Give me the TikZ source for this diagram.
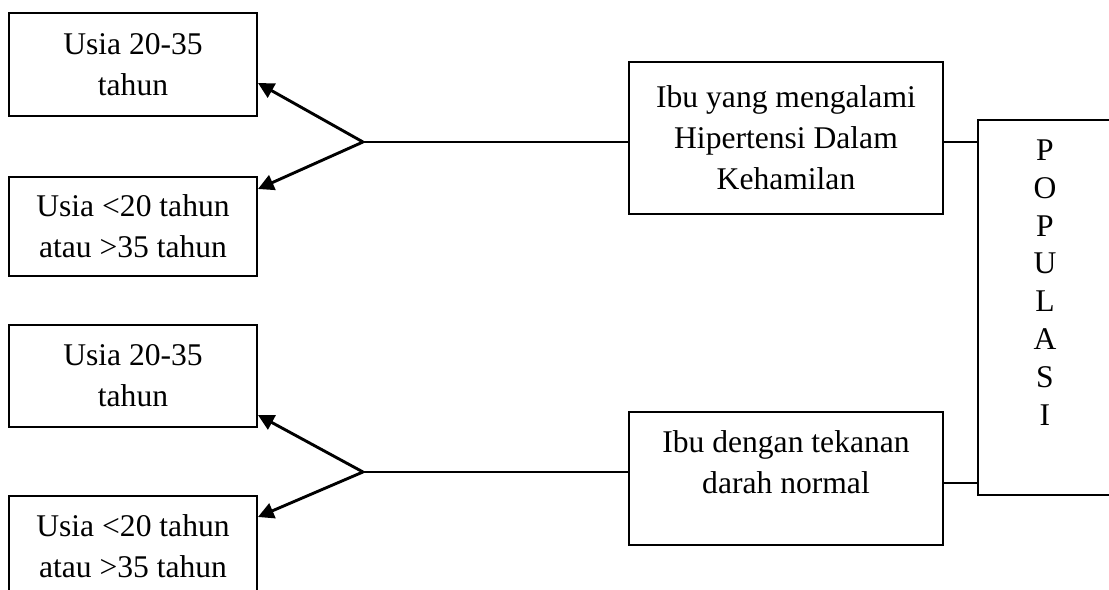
\documentclass[tikz,border=0pt]{standalone}
\usepackage{fontspec}
\setmainfont{Liberation Serif}
\usetikzlibrary{arrows.meta,calc,positioning}
\newcommand{\px}{0.01335cm}
\tikzset{
  every node/.style={font=\fontsize{12}{15.6}\selectfont, text=black},
  ageBox/.style={rectangle, draw=black, line width=0.75pt,
    minimum width=248*\px, minimum height=102*\px, align=center,
    inner sep=0pt},
  groupBox/.style={rectangle, draw=black, line width=0.75pt,
    minimum width=314*\px, align=center, inner sep=0pt},
  popBox/.style={rectangle, draw=black, line width=0.75pt,
    minimum width=134*\px, minimum height=375*\px, inner sep=0pt},
  boxText/.style={align=center, inner sep=0pt, anchor=north},
  branch/.style={-{Triangle[length=6pt,width=6pt]}, line width=1.1pt,
    color=black},
  link/.style={line width=0.75pt, color=black},
}

\begin{document}
\begin{tikzpicture}[x=\px, y=-\px]
  \clip (0,0) rectangle (1109,590);

  % Left column: age groups.
  \node[ageBox, minimum height=103*\px] (ageA1) at (133,64.5) {Usia 20-35\\tahun};
  \node[ageBox, minimum height=99*\px] (ageA2) at (133,226.5)
    {Usia <20 tahun\\atau >35 tahun};
  \node[ageBox] (ageB1) at (133,376) {Usia 20-35\\tahun};
  \node[ageBox, minimum height=100*\px] (ageB2) at (133,546)
    {Usia <20 tahun\\atau >35 tahun};

  % Middle column: the two groups of mothers.
  \node[groupBox, minimum height=152*\px] (hdk) at (786,138)
    {Ibu yang mengalami\\Hipertensi Dalam\\Kehamilan};
  \node[groupBox, minimum height=133*\px] (normal) at (786,478.5) {};
  \node[boxText] (normalText) at ($(normal.north)+(0,19)$)
    {Ibu dengan tekanan\\darah normal};

  % Population, one letter per line.
  \node[popBox] (pop) at (1045,307.5) {};
  \node[boxText, font=\fontsize{12}{14.4}\selectfont] (popText)
    at ($(pop.north)+(0,20)$) {P\\O\\P\\U\\L\\A\\S\\I};

  % Branch points and line ends.
  \coordinate (forkA) at (363,142);
  \coordinate (forkB) at (363,472);
  \coordinate (hdkOut) at ($(hdk.east)+(0,4)$);
  \coordinate (normalOut) at ($(normal.east)+(0,4.5)$);

  \draw[link] (forkA) -- (forkA -| hdk.west);
  \draw[branch] (forkA) -- ($(ageA1.east)+(0,18.5)$);
  \draw[branch] (forkA) -- ($(ageA2.east)+(0,-37.5)$);

  \draw[link] (forkB) -- (forkB -| normal.west);
  \draw[branch] (forkB) -- ($(ageB1.east)+(0,39)$);
  \draw[branch] (forkB) -- ($(ageB2.east)+(0,-29)$);

  \draw[link] (hdkOut) -- (hdkOut -| pop.west);
  \draw[link] (normalOut) -- (normalOut -| pop.west);
\end{tikzpicture}
\end{document}
